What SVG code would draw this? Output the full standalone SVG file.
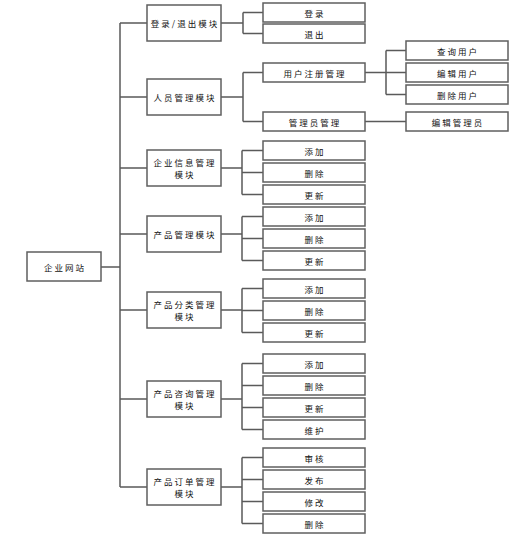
<svg xmlns="http://www.w3.org/2000/svg" width="516" height="538" viewBox="0 0 516 538">
<style>
rect{fill:#fff;stroke:#5f5f5f;stroke-width:1.5}
text{font-family:"Noto Sans CJK SC","Noto Sans CJK JP",sans-serif;font-size:8.5px;letter-spacing:2px;fill:#111;text-anchor:middle;dominant-baseline:central}
#connectors path{fill:none;stroke:#5a5a5a;stroke-width:1.5}
</style>
<rect x="0" y="0" width="516" height="538" style="fill:#fff;stroke:none"/>
<g id="connectors">
<path d="M101 267H120M120 23V487"/>
<path d="M120 23H147M120 97H147M120 168H147M120 234H147M120 310H147M120 399H147M120 487H147"/>
<path d="M221 23H243M243 12.5V33.5M243 12.5H263M243 33.5H263"/>
<path d="M221 97H243M243 72.5V121.5M243 72.5H263M243 121.5H263"/>
<path d="M365 72.5H386M386 50.5V94.5M386 50.5H406M386 72.5H406M386 94.5H406M365 121.5H406"/>
<path d="M221 168H242M242 150.5V194.5M242 150.5H263M242 172.5H263M242 194.5H263"/>
<path d="M221 234H242M242 216.5V260.5M242 216.5H263M242 238.5H263M242 260.5H263"/>
<path d="M221 310H242M242 288.5V332.5M242 288.5H263M242 310.5H263M242 332.5H263"/>
<path d="M221 399H242M242 363.5V429.5M242 363.5H263M242 385.5H263M242 407.5H263M242 429.5H263"/>
<path d="M221 487H242M242 457.5V523.5M242 457.5H263M242 479.5H263M242 501.5H263M242 523.5H263"/>
</g>
<g id="root"><rect x="27" y="252" width="74" height="29"/><text x="65" y="267">企业网站</text></g>
<g id="m-login"><rect x="147" y="5" width="74" height="36"/><text x="185" y="23">登录/退出模块</text></g>
<g id="m-staff"><rect x="147" y="79" width="74" height="36"/><text x="185" y="97">人员管理模块</text></g>
<g id="m-info"><rect x="147" y="150" width="74" height="36"/><text x="185" y="162">企业信息管理</text><text x="185" y="174">模块</text></g>
<g id="m-product"><rect x="147" y="216" width="74" height="36"/><text x="185" y="234">产品管理模块</text></g>
<g id="m-category"><rect x="147" y="292" width="74" height="36"/><text x="185" y="304">产品分类管理</text><text x="185" y="316">模块</text></g>
<g id="m-consult"><rect x="147" y="381" width="74" height="36"/><text x="185" y="393">产品咨询管理</text><text x="185" y="405">模块</text></g>
<g id="m-order"><rect x="147" y="469" width="74" height="36"/><text x="185" y="481">产品订单管理</text><text x="185" y="493">模块</text></g>
<g id="login"><rect x="263" y="3" width="102" height="19"/><text x="315" y="12.5">登录</text></g>
<g id="logout"><rect x="263" y="24" width="102" height="19"/><text x="315" y="33.5">退出</text></g>
<g id="user-reg"><rect x="263" y="63" width="102" height="19"/><text x="315" y="72.5">用户注册管理</text></g>
<g id="admin"><rect x="263" y="112" width="102" height="19"/><text x="315" y="121.5">管理员管理</text></g>
<g id="query-user"><rect x="406" y="41" width="102" height="19"/><text x="458" y="50.5">查询用户</text></g>
<g id="edit-user"><rect x="406" y="63" width="102" height="19"/><text x="458" y="72.5">编辑用户</text></g>
<g id="del-user"><rect x="406" y="85" width="102" height="19"/><text x="458" y="94.5">删除用户</text></g>
<g id="edit-admin"><rect x="406" y="112" width="102" height="19"/><text x="458" y="121.5">编辑管理员</text></g>
<g id="info-add"><rect x="263" y="141" width="102" height="19"/><text x="315" y="150.5">添加</text></g>
<g id="info-del"><rect x="263" y="163" width="102" height="19"/><text x="315" y="172.5">删除</text></g>
<g id="info-upd"><rect x="263" y="185" width="102" height="19"/><text x="315" y="194.5">更新</text></g>
<g id="prod-add"><rect x="263" y="207" width="102" height="19"/><text x="315" y="216.5">添加</text></g>
<g id="prod-del"><rect x="263" y="229" width="102" height="19"/><text x="315" y="238.5">删除</text></g>
<g id="prod-upd"><rect x="263" y="251" width="102" height="19"/><text x="315" y="260.5">更新</text></g>
<g id="cat-add"><rect x="263" y="279" width="102" height="19"/><text x="315" y="288.5">添加</text></g>
<g id="cat-del"><rect x="263" y="301" width="102" height="19"/><text x="315" y="310.5">删除</text></g>
<g id="cat-upd"><rect x="263" y="323" width="102" height="19"/><text x="315" y="332.5">更新</text></g>
<g id="con-add"><rect x="263" y="354" width="102" height="19"/><text x="315" y="363.5">添加</text></g>
<g id="con-del"><rect x="263" y="376" width="102" height="19"/><text x="315" y="385.5">删除</text></g>
<g id="con-upd"><rect x="263" y="398" width="102" height="19"/><text x="315" y="407.5">更新</text></g>
<g id="con-mnt"><rect x="263" y="420" width="102" height="19"/><text x="315" y="429.5">维护</text></g>
<g id="ord-audit"><rect x="263" y="448" width="102" height="19"/><text x="315" y="457.5">审核</text></g>
<g id="ord-pub"><rect x="263" y="470" width="102" height="19"/><text x="315" y="479.5">发布</text></g>
<g id="ord-mod"><rect x="263" y="492" width="102" height="19"/><text x="315" y="501.5">修改</text></g>
<g id="ord-del"><rect x="263" y="514" width="102" height="19"/><text x="315" y="523.5">删除</text></g>
</svg>
